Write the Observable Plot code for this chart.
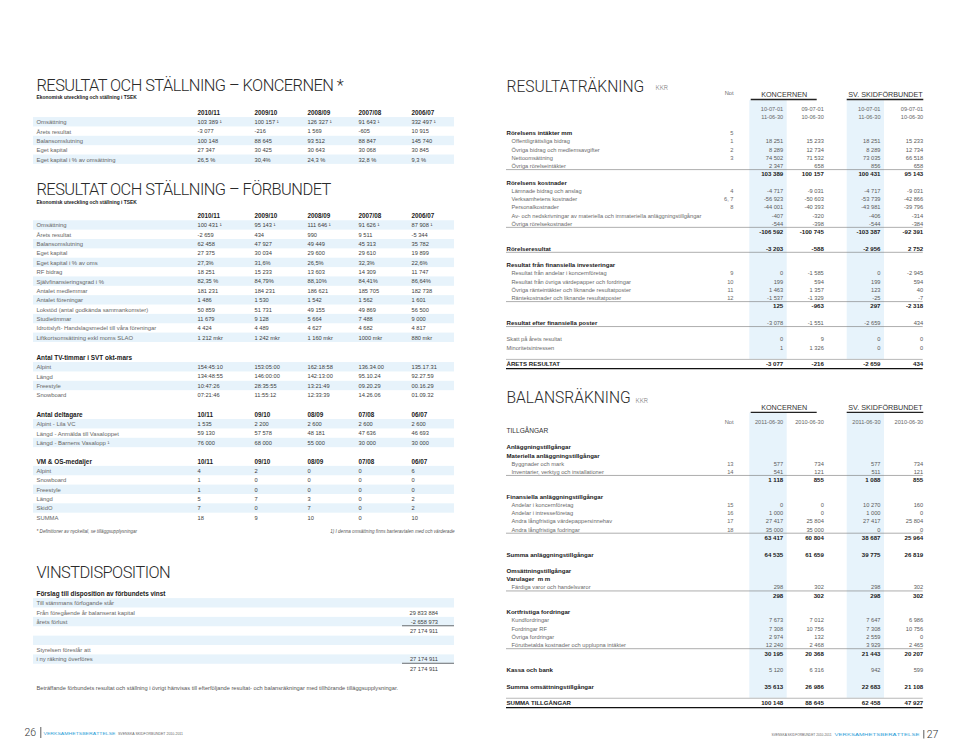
<!DOCTYPE html>
<html><head><meta charset="utf-8">
<script src="https://cdn.jsdelivr.net/npm/d3@7"></script>
<script src="https://cdn.jsdelivr.net/npm/@observablehq/plot@0.6"></script>
<style>html,body{margin:0;padding:0;background:#fff}#chart svg{display:block}</style>
</head><body><div id="chart"></div>
<script>
// ---------------- DATA ----------------
const yearCols = ["2010/11","2009/10","2008/09","2007/08","2006/07"];
const seasonCols = ["10/11","09/10","08/09","07/08","06/07"];

const koncernLabels = ["Omsättning","Årets resultat","Balansomslutning","Eget kapital","Eget kapital i % av omsättning"];
const koncernValues = [
  ["103 389 ¹","100 157 ¹","126 327 ¹","91 643 ¹","332 497 ¹"],
  ["-3 077","-216","1 569","-605","10 915"],
  ["100 148","88 645","93 512","88 847","145 740"],
  ["27 347","30 425","30 643","30 068","30 845"],
  ["26,5 %","30,4%","24,3 %","32,8 %","9,3 %"]
];

const forbundLabels = ["Omsättning","Årets resultat","Balansomslutning","Eget kapital","Eget kapital i % av oms","RF bidrag",
  "Självfinansieringsgrad i %","Antalet medlemmar","Antalet föreningar","Lokstöd (antal godkända sammankomster)",
  "Studietimmar","Idrottslyft- Handslagsmedel till våra föreningar","Liftkortsomsättning exkl moms SLAO"];
const forbundValues = [
  ["100 431 ¹","95 143 ¹","111 646 ¹","91 626 ¹","87 908 ¹"],
  ["-2 659","434","990","9 511","-5 344"],
  ["62 458","47 927","49 449","45 313","35 782"],
  ["27 375","30 034","29 600","29 610","19 899"],
  ["27,3%","31,6%","26,5%","32,3%","22,6%"],
  ["18 251","15 233","13 603","14 309","11 747"],
  ["82,35 %","84,79%","88,10%","84,41%","86,64%"],
  ["181 231","184 231","186 621","185 705","182 738"],
  ["1 486","1 530","1 542","1 562","1 601"],
  ["50 859","51 731","49 155","49 869","56 500"],
  ["11 679","9 128","5 664","7 488","9 000"],
  ["4 424","4 489","4 627","4 682","4 817"],
  ["1 212 mkr","1 242 mkr","1 160 mkr","1000 mkr","880 mkr"]
];

const tvTitle = "Antal TV-timmar i SVT okt-mars";
const tvLabels = ["Alpint","Längd","Freestyle","Snowboard"];
const tvValues = [
  ["154:45:10","153:05:00","162:18:58","136.34.00","135.17.31"],
  ["134:48:55","146:00:00","142:13:00","95.10.24","92.27.59"],
  ["10:47:26","28:35:55","13:21:49","09.20.29","00.16.29"],
  ["07:21:46","11:55:12","12:33:39","14.26.06","01.09.32"]
];

const deltTitle = "Antal deltagare";
const deltLabels = ["Alpint - Lila VC","Längd - Anmälda till Vasaloppet","Längd - Barnens Vasalopp ¹"];
const deltValues = [
  ["1 535","2 200","2 600","2 600","2 600"],
  ["59 130","57 578","48 181","47 636","46 693"],
  ["76 000","68 000","55 000","30 000","30 000"]
];

const medalTitle = "VM & OS-medaljer";
const medalLabels = ["Alpint","Snowboard","Freestyle","Längd","SkidO","SUMMA"];
const medalValues = [
  ["4","2","0","0","6"],
  ["1","0","0","0","0"],
  ["1","0","0","0","0"],
  ["5","7","3","0","2"],
  ["7","0","7","0","2"],
  ["18","9","10","0","10"]
];

const noteLeft = "* Definitioner av nyckeltal, se tilläggsupplysningar";
const noteRight = "1) I denna omsättning finns barteravtalen med och värderade";

const vinstTitle = "Förslag till disposition av förbundets vinst";
const vinstLabels = ["Till stämmans förfogande står","Från föregående år balanserat kapital","årets förlust","","","Styrelsen föreslår att","i ny räkning överföres",""];
const vinstValues = ["","29 833 884","-2 658 973","27 174 911","","","27 174 911","27 174 911"];
const vinstSumAfter = [2, 6]; // rows followed by a sum line
const vinstText = "Beträffande förbundets resultat och ställning i övrigt hänvisas till efterföljande resultat- och balansräkningar med tillhörande tilläggsupplysningar.";

const resColHeads = ["KONCERNEN","SV. SKIDFÖRBUNDET"];
const resPeriodFrom = ["10-07-01","09-07-01","10-07-01","09-07-01"];
const resPeriodTo = ["11-06-30","10-06-30","11-06-30","10-06-30"];
// role: head | item | total | blank | result | resultreg | plain | grand
const resRows = [
  {role:"head", label:"Rörelsens intäkter mm", not:"5"},
  {role:"item", label:"Offentligrättsliga bidrag", not:"1", v:["18 251","15 233","18 251","15 233"]},
  {role:"item", label:"Övriga bidrag och medlemsavgifter", not:"2", v:["8 289","12 734","8 289","12 734"]},
  {role:"item", label:"Nettoomsättning", not:"3", v:["74 502","71 532","73 035","66 518"]},
  {role:"item", label:"Övriga rörelseintäkter", v:["2 347","658","856","658"]},
  {role:"total", v:["103 389","100 157","100 431","95 143"]},
  {role:"head", label:"Rörelsens kostnader"},
  {role:"item", label:"Lämnade bidrag och anslag", not:"4", v:["-4 717","-9 031","-4 717","-9 031"]},
  {role:"item", label:"Verksamhetens kostnader", not:"6, 7", v:["-56 923","-50 603","-53 739","-42 866"]},
  {role:"item", label:"Personalkostnader", not:"8", v:["-44 001","-40 393","-43 981","-39 796"]},
  {role:"item", label:"Av- och nedskrivningar av materiella och immateriella anläggningstillgångar", v:["-407","-320","-406","-314"]},
  {role:"item", label:"Övriga rörelsekostnader", v:["-544","-398","-544","-384"]},
  {role:"total", v:["-106 592","-100 745","-103 387","-92 391"]},
  {role:"blank"},
  {role:"result", label:"Rörelseresultat", v:["-3 203","-588","-2 956","2 752"]},
  {role:"blank"},
  {role:"head", label:"Resultat från finansiella investeringar"},
  {role:"item", label:"Resultat från andelar i koncernföretag", not:"9", v:["0","-1 585","0","-2 945"]},
  {role:"item", label:"Resultat från övriga värdepapper och fordringar", not:"10", v:["199","594","199","594"]},
  {role:"item", label:"Övriga ränteintäkter och liknande resultatposter", not:"11", v:["1 463","1 357","123","40"]},
  {role:"item", label:"Räntekostnader och liknande resultatposter", not:"12", v:["-1 537","-1 329","-25","-7"]},
  {role:"total", v:["125","-963","297","-2 318"]},
  {role:"blank"},
  {role:"resultreg", label:"Resultat efter finansiella poster", v:["-3 078","-1 551","-2 659","434"]},
  {role:"blank"},
  {role:"plain", label:"Skatt på årets resultat", v:["0","9","0","0"]},
  {role:"plain", label:"Minoritetsintressen", v:["1","1 326","0","0"]},
  {role:"blank"},
  {role:"grand", label:"ÅRETS RESULTAT", v:["-3 077","-216","-2 659","434"]}
];

const balDates = ["2011-06-30","2010-06-30","2011-06-30","2010-06-30"];
const balRows = [
  {role:"section", label:"TILLGÅNGAR"},
  {role:"blank"},
  {role:"head", label:"Anläggningstillgångar"},
  {role:"head", label:"Materiella anläggningstillgångar"},
  {role:"item", label:"Byggnader och mark", not:"13", v:["577","734","577","734"]},
  {role:"item", label:"Inventarier, verktyg och installationer", not:"14", v:["541","121","511","121"]},
  {role:"total", v:["1 118","855","1 088","855"]},
  {role:"blank"},
  {role:"head", label:"Finansiella anläggningstillgångar"},
  {role:"item", label:"Andelar i koncernföretag", not:"15", v:["0","0","10 270","160"]},
  {role:"item", label:"Andelar i intresseföretag", not:"16", v:["1 000","0","1 000","0"]},
  {role:"item", label:"Andra långfristiga värdepappersinnehav", not:"17", v:["27 417","25 804","27 417","25 804"]},
  {role:"item", label:"Andra långfristiga fodringar", not:"18", v:["35 000","35 000","0","0"]},
  {role:"total", v:["63 417","60 804","38 687","25 964"]},
  {role:"blank"},
  {role:"sum", label:"Summa anläggningstillgångar", v:["64 535","61 659","39 775","26 819"]},
  {role:"blank"},
  {role:"head", label:"Omsättningstillgångar"},
  {role:"head", label:"Varulager  m m"},
  {role:"item", label:"Färdiga varor och handelsvaror", v:["298","302","298","302"]},
  {role:"total", v:["298","302","298","302"]},
  {role:"blank"},
  {role:"head", label:"Kortfristiga fordringar"},
  {role:"item", label:"Kundfordringar", v:["7 673","7 012","7 647","6 986"]},
  {role:"item", label:"Fordringar RF", v:["7 308","10 756","7 308","10 756"]},
  {role:"item", label:"Övriga fordringar", v:["2 974","132","2 559","0"]},
  {role:"item", label:"Förutbetalda kostnader och upplupna intäkter", v:["12 240","2 468","3 929","2 465"]},
  {role:"total", v:["30 195","20 368","21 443","20 207"]},
  {role:"blank"},
  {role:"headreg", label:"Kassa och bank", v:["5 120","6 316","942","599"]},
  {role:"blank"},
  {role:"sum", label:"Summa omsättningstillgångar", v:["35 613","26 986","22 683","21 108"]},
  {role:"blank"},
  {role:"grand", label:"SUMMA TILLGÅNGAR", v:["100 148","88 645","62 458","47 927"]}
];

const titles = {
  koncern: "RESULTAT OCH STÄLLNING – KONCERNEN *",
  forbund: "RESULTAT OCH STÄLLNING – FÖRBUNDET",
  sub: "Ekonomisk utveckling och ställning i TSEK",
  vinst: "VINSTDISPOSITION",
  res: "RESULTATRÄKNING",
  bal: "BALANSRÄKNING",
  unit: "KKR"
};
const footer = {left: "26", right: "27", blue: "VERKSAMHETSBERÄTTELSE", gray: "SVENSKA SKIDFÖRBUNDET 2010-2011"};

// ---------------- LAYOUT ----------------
const W = 960, H = 742;
const BLUE = "#e7f3fb";
const SANS = "Liberation Sans, Arial, Helvetica, sans-serif";
const LIGHT = "Roboto, Lato, sans-serif";
const STY = {
  title:   {fontSize: 16.4, fontWeight: 300, fill: "#2a2a2a", fontFamily: LIGHT},
  titleR:  {fontSize: 15.6, fontWeight: 300, fill: "#2a2a2a", fontFamily: LIGHT},
  unit:    {fontSize: 6.6, fontWeight: 300, fill: "#777", fontFamily: LIGHT},
  sub:     {fontSize: 4.9, fontWeight: 700, fill: "#222"},
  colHead: {fontSize: 6.3, fontWeight: 700, fill: "#1a1a1a"},
  secHead: {fontSize: 6.4, fontWeight: 700, fill: "#1a1a1a"},
  lLabel:  {fontSize: 5.9, fontWeight: 400, fill: "#666"},
  lVal:    {fontSize: 5.7, fontWeight: 400, fill: "#3d3d3d"},
  note:    {fontSize: 4.6, fontWeight: 400, fill: "#555", fontStyle: "italic"},
  body:    {fontSize: 5.7, fontWeight: 400, fill: "#555"},
  rHead:   {fontSize: 6.1, fontWeight: 700, fill: "#1a1a1a"},
  rItem:   {fontSize: 5.7, fontWeight: 400, fill: "#6a6a6a"},
  rVal:    {fontSize: 5.7, fontWeight: 400, fill: "#5a5a5a"},
  rTot:    {fontSize: 6.1, fontWeight: 700, fill: "#1a1a1a"},
  rSec:    {fontSize: 6.6, fontWeight: 400, fill: "#333"},
  rCol:    {fontSize: 7.2, fontWeight: 400, fill: "#333"},
  rDate:   {fontSize: 5.6, fontWeight: 400, fill: "#666"},
  pageNo:  {fontSize: 10.5, fontWeight: 300, fill: "#333", fontFamily: LIGHT},
  footBlueL:{fontSize: 4.4, fontWeight: 400, fill: "#2ea0d8"},
  footGrayL:{fontSize: 4.0, fontWeight: 400, fill: "#666"},
  footBlueR:{fontSize: 4.4, fontWeight: 400, fill: "#2ea0d8"},
  footGrayR:{fontSize: 3.5, fontWeight: 400, fill: "#666"}
};
// target text lengths for the tiny footer lines (layout fitting)
const FIT = {footBlueL: 72, footGrayL: 65, footGrayR: 60, footBlueR: 85};

const T = [];   // text records
const R = [];   // stripe rects
const L = [];   // horizontal rules
const V = [];   // vertical rules
const t = (x, y, text, s, anchor = "start") => { if (text) T.push({x, y, text, s, anchor}); };

// ---- left page ----
const LX = 36, LCOLS = [197, 254, 307, 358, 411], SX = [33, 454], RH = 9.36;
function leftTable(headY, head, cols, labels, values) {
  if (head) t(LX, headY, head, "secHead");
  cols.forEach((c, i) => t(LCOLS[i], headY, c, "colHead"));
  labels.forEach((lab, r) => {
    const y = headY + RH * (r + 1);
    if (r % 2 === 0) R.push({x1: SX[0], x2: SX[1], y1: y - RH / 2, y2: y + RH / 2});
    t(LX, y, lab, "lLabel");
    values[r].forEach((v, i) => t(LCOLS[i], y, v, "lVal"));
  });
}
t(LX, 85, titles.koncern, "title");
t(LX, 97.3, titles.sub, "sub");
leftTable(112.4, null, yearCols, koncernLabels, koncernValues);
t(LX, 189, titles.forbund, "title");
t(LX, 202, titles.sub, "sub");
leftTable(215.6, null, yearCols, forbundLabels, forbundValues);
leftTable(357.4, tvTitle, [], tvLabels, tvValues);
leftTable(414.4, deltTitle, seasonCols, deltLabels, deltValues);
leftTable(461.2, medalTitle, seasonCols, medalLabels, medalValues);
t(LX, 531.3, noteLeft, "note");
t(SX[1], 531.3, noteRight, "note", "end");

t(LX, 572.5, titles.vinst, "title");
t(LX, 593.3, vinstTitle, "secHead");
const VX = 437.5;
vinstLabels.forEach((lab, r) => {
  const y = 602.8 + 9.38 * r;
  if (r % 2 === 0) R.push({x1: SX[0], x2: SX[1], y1: y - 4.69, y2: y + 4.69});
  t(LX, y, lab, "lLabel");
  t(VX, y, vinstValues[r], "lVal", "end");
  if (vinstSumAfter.includes(r)) L.push({y: y + 3.7, x1: 402, x2: SX[1], stroke: "#333", w: 0.7});
});
t(LX, 687.8, vinstText, "body");

// ---- right page ----
const RX = 506, RXI = 511, NOTX = 733, RCOLS = [782.7, 823.3, 880, 922.7], RSTEP = 8.25;
const BANDS = [[749.3, 786.7], [846.7, 884]];
const GROUPS = [[750.7, 816.7], [846.7, 923.3]];
function colHeads(y) {
  resColHeads.forEach((h, i) => {
    t((GROUPS[i][0] + GROUPS[i][1]) / 2, y, h, "rCol", "middle");
    L.push({y: y + 4.8, x1: GROUPS[i][0], x2: GROUPS[i][1], stroke: "#222", w: 1.3});
  });
}
function statement(rows, y0, bandTop) {
  let bandBottom = 0;
  rows.forEach((row, k) => {
    const y = y0 + RSTEP * k;
    const role = row.role;
    if (role === "blank") return;
    const next = rows[k + 1];
    const lab = {head: "rHead", item: "rItem", result: "rHead", resultreg: "rHead", plain: "rItem",
                 grand: "rHead", sum: "rHead", headreg: "rHead", section: "rSec"}[role];
    if (row.label) t(role === "item" ? RXI : RX, y, row.label, lab);
    if (row.not) t(NOTX, y, row.not, "rItem", "end");
    const bold = ["total", "result", "grand", "sum"].includes(role);
    if (row.v) row.v.forEach((v, i) => t(RCOLS[i], y, v, bold ? "rTot" : "rVal", "end"));
    if (role === "item" && next && next.role === "total")
      L.push({y: y + 3.4, x1: RX, x2: RCOLS[3], stroke: "#777", w: 0.6});
    if (role === "result" || role === "resultreg")
      L.push({y: y + 3.6, x1: RX, x2: RCOLS[3], stroke: "#777", w: 0.6});
    if (role === "grand") {
      L.push({y: y - 4.8, x1: RX, x2: RCOLS[3], stroke: "#888", w: 0.6});
      L.push({y: y + 4.5, x1: RX, x2: RCOLS[3], stroke: "#111", w: 1.3});
      bandBottom = y - 4.8;
    }
  });
  BANDS.forEach(b => R.push({x1: b[0], x2: b[1], y1: bandTop, y2: bandBottom}));
}
// Resultaträkning
t(RX, 86.4, titles.res, "titleR");
t(655, 87.8, titles.unit, "unit");
t(NOTX, 92.7, "Not", "rItem", "end");
colHeads(94.2);
resPeriodFrom.forEach((d, i) => t(RCOLS[i], 109, d, "rDate", "end"));
resPeriodTo.forEach((d, i) => t(RCOLS[i], 116.7, d, "rDate", "end"));
statement(resRows, 132.7, 100.2);

// Balansräkning
t(RX, 397.8, titles.bal, "titleR");
t(635, 400.2, titles.unit, "unit");
colHeads(407);
t(NOTX, 421.7, "Not", "rItem", "end");
balDates.forEach((d, i) => t(RCOLS[i], 421.7, d, "rDate", "end"));
statement(balRows, 430.3, 412.6);

// ---- footers ----
t(24, 732.5, footer.left, "pageNo");
V.push({x: 40.3, y1: 727, y2: 738});
t(43, 733.3, footer.blue, "footBlueL");
t(117.5, 733.3, footer.gray, "footGrayL");
t(771, 734.3, footer.gray, "footGrayR");
t(834, 734.3, footer.blue, "footBlueR");
V.push({x: 923.3, y1: 730, y2: 738.5});
t(926.3, 733.8, footer.right, "pageNo");

// ---------------- PLOT ----------------
const textMarks = [];
d3.group(T, d => d.s + "|" + d.anchor).forEach((recs, key) => {
  const [s, anchor] = key.split("|");
  const st = STY[s];
  textMarks.push(Plot.text(recs, {
    x: "x", y: "y", text: "text", textAnchor: anchor, lineAnchor: "middle",
    fontFamily: st.fontFamily || SANS, fontSize: st.fontSize, fontWeight: st.fontWeight,
    fontStyle: st.fontStyle || "normal", fill: st.fill, className: "t-" + s
  }));
});
const ruleMarks = [];
d3.group(L, d => d.stroke + "|" + d.w).forEach((recs) => {
  ruleMarks.push(Plot.ruleY(recs, {y: "y", x1: "x1", x2: "x2", stroke: recs[0].stroke, strokeWidth: recs[0].w}));
});

const chart = Plot.plot({
  width: W, height: H,
  marginTop: 0, marginRight: 0, marginBottom: 0, marginLeft: 0,
  x: {type: "linear", domain: [0, W], range: [0, W], axis: null},
  y: {type: "linear", domain: [0, H], range: [0, H], axis: null},
  style: {background: "#fff", fontFamily: SANS},
  marks: [
    Plot.rect(R, {x1: "x1", x2: "x2", y1: "y1", y2: "y2", fill: BLUE}),
    ...ruleMarks,
    Plot.ruleX(V, {x: "x", y1: "y1", y2: "y2", stroke: "#333", strokeWidth: 0.8}),
    ...textMarks
  ]
});
document.getElementById("chart").appendChild(chart);
const svg = d3.select(chart);
svg.selectAll(".t-title text").style("letter-spacing", "-0.55px");
Object.entries(FIT).forEach(([cls, len]) => {
  svg.selectAll(".t-" + cls + " text").attr("textLength", len).attr("lengthAdjust", "spacingAndGlyphs");
});
</script>
</body></html>
